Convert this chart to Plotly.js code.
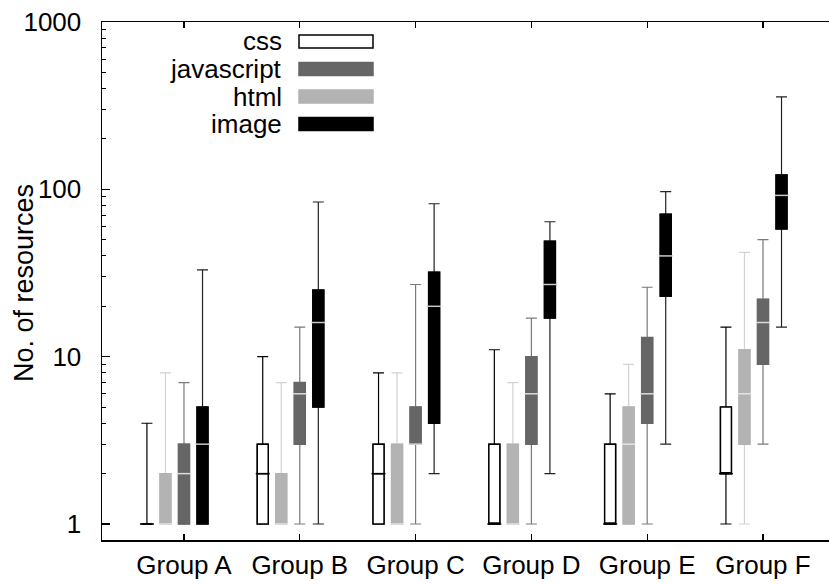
<!DOCTYPE html>
<html><head><meta charset="utf-8">
<script src="https://cdn.plot.ly/plotly-3.0.1.min.js"></script>
<style>html,body{margin:0;padding:0;background:#fff}#chart{width:829px;height:585px}</style>
</head><body><div id="chart"></div>
<script>
// ---- data ----
const groups = ['Group A','Group B','Group C','Group D','Group E','Group F'];
const yTickVals = [1, 10, 100, 1000];
const yTickText = ['1', '10', '100', '1000'];

const cssLower   = [1, 1, 1, 1, 1, 1];
const cssQ1      = [1, 1, 1, 1, 1, 2];
const cssMedian  = [1, 2, 2, 1, 1, 2];
const cssQ3      = [1, 3, 3, 3, 3, 5];
const cssUpper   = [4, 10, 8, 11, 6, 15];

const htmlLower  = [1, 1, 1, 1, 1, 1];
const htmlQ1     = [1, 1, 1, 1, 1, 3];
const htmlMedian = [1, 1, 1, 1, 3, 6];
const htmlQ3     = [2, 2, 3, 3, 5, 11];
const htmlUpper  = [8, 7, 8, 7, 9, 42];

const jsLower    = [1, 1, 1, 1, 1, 3];
const jsQ1       = [1, 3, 3, 3, 4, 9];
const jsMedian   = [2, 6, 3, 6, 6, 16];
const jsQ3       = [3, 7, 5, 10, 13, 22];
const jsUpper    = [7, 15, 27, 17, 26, 50];

const imageLower  = [1, 1, 2, 2, 3, 15];
const imageQ1     = [1, 5, 4, 17, 23, 58];
const imageMedian = [3, 16, 20, 27, 40, 92];
const imageQ3     = [5, 25, 32, 49, 71, 122];
const imageUpper  = [33, 84, 82, 64, 97, 357];

// ---- styling ----
const series = [
  {name:'css', lo:cssLower, q1:cssQ1, med:cssMedian, q3:cssQ3, hi:cssUpper,
   fill:'#ffffff', border:'#000000', whisker:'#000000', median:'#000000'},
  {name:'html', lo:htmlLower, q1:htmlQ1, med:htmlMedian, q3:htmlQ3, hi:htmlUpper,
   fill:'#b3b3b3', border:'#b3b3b3', whisker:'#d2d2d2', median:'#e4e4e4'},
  {name:'javascript', lo:jsLower, q1:jsQ1, med:jsMedian, q3:jsQ3, hi:jsUpper,
   fill:'#666666', border:'#666666', whisker:'#7a7a7a', median:'#dcdcdc'},
  {name:'image', lo:imageLower, q1:imageQ1, med:imageMedian, q3:imageQ3, hi:imageUpper,
   fill:'#000000', border:'#000000', whisker:'#222222', median:'#c8c8c8'}
];
const legendOrder = ['css','javascript','html','image'];
const step = 0.16, boxW = 0.095;

const traces = [];
const medTraces = [];
series.forEach((s, k) => {
  const xs = groups.map((g, i) => i + (k - 2) * step);
  // whiskers
  traces.push({type:'box', name:s.name, x:xs, q1:s.q1, median:s.med, q3:s.q3,
    lowerfence:s.lo, upperfence:s.hi, width:boxW, whiskerwidth:1, boxpoints:false,
    line:{color:s.whisker, width:1.2}, fillcolor:s.fill, hoverinfo:'skip', showlegend:false});
  // box body
  traces.push({type:'box', name:s.name, x:xs, q1:s.q1, median:s.med, q3:s.q3,
    lowerfence:s.q1, upperfence:s.q3, width:boxW, whiskerwidth:0, boxpoints:false,
    line:{color:s.border, width:1.5}, fillcolor:s.fill, hoverinfo:'skip', showlegend:false});
  // median line
  medTraces.push({type:'scatter', mode:'markers', x:xs, y:s.med,
    marker:{symbol:'line-ew', size:10, color:s.median, line:{color:s.median, width:1.5}},
    hoverinfo:'skip', showlegend:false});
});

// minor ticks 2..9 per decade
const minorVals = [];
for (let d = 1; d <= 100; d *= 10) for (let m = 2; m <= 9; m++) minorVals.push(m * d);

// legend (gnuplot-style: text then sample)
const L = {l:102, t:22, w:727, h:518};
const px = x => (x - L.l) / L.w;
const py = y => (L.t + L.h - y) / L.h;
const legendY = [41.5, 69, 96.5, 124];
const annotations = [];
const shapes = [];
legendOrder.forEach((nm, i) => {
  const s = series.find(t => t.name === nm);
  annotations.push({xref:'paper', yref:'paper', x:px(284), y:py(legendY[i]), text:nm,
    xanchor:'right', yanchor:'middle', showarrow:false, font:{size:26, color:'#000'}});
  shapes.push({type:'rect', xref:'paper', yref:'paper', x0:px(299), x1:px(373),
    y0:py(legendY[i] + 6.5), y1:py(legendY[i] - 6.5), fillcolor:s.fill,
    line:{color:s.border, width:1.5}});
});
annotations.push({xref:'paper', yref:'paper', x:px(24), y:py(283), text:'No. of resources',
  textangle:-90, xanchor:'center', yanchor:'middle', showarrow:false, font:{size:27, color:'#000'}});

const layout = {
  width:829, height:585,
  margin:{l:102, r:0, t:22, b:45},
  paper_bgcolor:'#fff', plot_bgcolor:'#fff',
  font:{family:'Liberation Sans, Arial, sans-serif', size:26, color:'#000'},
  boxmode:'overlay',
  showlegend:false,
  xaxis:{type:'linear', range:[-0.708, 5.570], tickmode:'array', tickvals:groups.map((g,i)=>i),
    ticktext:groups, ticks:'inside', ticklen:6, tickwidth:1.2, tickcolor:'#000',
    showline:true, linecolor:'#000', linewidth:1.5, mirror:'ticks',
    showgrid:false, zeroline:false, ticklabelstandoff:1, tickfont:{size:26}},
  yaxis:{type:'log', range:[-0.0956, 3], tickmode:'array', tickvals:yTickVals, ticktext:yTickText,
    ticks:'inside', ticklen:8, tickwidth:1.2, tickcolor:'#000',
    minor:{tickmode:'array', tickvals:minorVals, ticks:'inside', ticklen:4, tickwidth:1, tickcolor:'#000', showgrid:false},
    showline:true, linecolor:'#000', linewidth:1.5, mirror:false,
    showgrid:false, zeroline:false, ticklabelstandoff:14, tickfont:{size:26}},
  annotations:annotations, shapes:shapes
};

Plotly.newPlot('chart', traces.concat(medTraces), layout, {staticPlot:true, displayModeBar:false});
</script>
</body></html>
